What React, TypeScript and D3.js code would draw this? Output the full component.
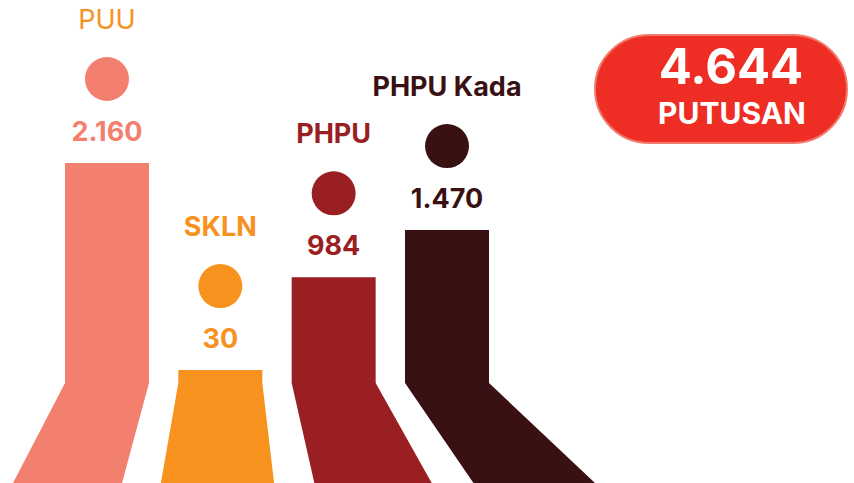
import React from "react";
import * as d3 from "d3";

const categories = ["PUU", "SKLN", "PHPU", "PHPU Kada"];
const values = [2160, 30, 984, 1470];
const totalUnit = "PUTUSAN";

const barColors = ["#F37F6F", "#F7921F", "#9A1F23", "#3A1113"];
const labelColors = ["#F7921F", "#F7921F", "#9A1F23", "#3A1113"];
const labelWeights = [400, 700, 700, 700];

const W = 854;
const H = 483;
const BASE_Y = 383;

const fmt = d3
  .formatLocale({ decimal: ",", thousands: ".", grouping: [3], currency: ["", ""] })
  .format(",");

export default function App() {
  const x = d3
    .scaleBand<string>()
    .domain(categories)
    .range([65, 489])
    .paddingInner(0.259)
    .paddingOuter(0);
  const y = d3
    .scaleLinear()
    .domain([0, d3.max(values) as number])
    .range([373, 163]);
  // perspective spread of the floor part
  const floor = (px: number) => -69.27 + 1.2515 * px + 0.0002186 * px * px;
  const line = d3.line();
  const total = d3.sum(values);
  const font = "Inter, 'Noto Sans', sans-serif";

  return (
    <svg
      width={W}
      height={H}
      style={{ position: "absolute", left: 0, top: 0, background: "#fff" }}
      fontFamily={font}
    >
      {categories.map((c, i) => {
        const x0 = x(c) as number;
        const x1 = x0 + x.bandwidth();
        const top = y(values[i]);
        const cx = x0 + x.bandwidth() / 2;
        const cy = top - 84;
        const d =
          line([
            [x0, top],
            [x1, top],
            [x1, BASE_Y],
            [floor(x1), H],
            [floor(x0), H],
            [x0, BASE_Y],
          ]) + "Z";
        return (
          <g key={c}>
            <path d={d} fill={barColors[i]} />
            <circle cx={cx} cy={cy} r={22} fill={barColors[i]} />
            <text
              x={cx}
              y={cy + 62}
              textAnchor="middle"
              fontSize={27}
              fontWeight={700}
              fill={barColors[i]}
            >
              {fmt(values[i])}
            </text>
            <text
              x={cx}
              y={cy - 50}
              textAnchor="middle"
              fontSize={27}
              fontWeight={labelWeights[i]}
              fill={labelColors[i]}
            >
              {c}
            </text>
          </g>
        );
      })}
      <g>
        <rect
          x={595}
          y={35}
          width={252}
          height={108}
          rx={54}
          ry={54}
          fill="#EE2D24"
          stroke="#F27A6C"
          strokeWidth={2}
        />
        <text
          x={731}
          y={84}
          textAnchor="middle"
          fontSize={49}
          fontWeight={700}
          fill="#fff"
        >
          {fmt(total)}
        </text>
        <text
          x={732}
          y={124}
          textAnchor="middle"
          fontSize={30}
          fontWeight={700}
          fill="#fff"
        >
          {totalUnit}
        </text>
      </g>
    </svg>
  );
}
